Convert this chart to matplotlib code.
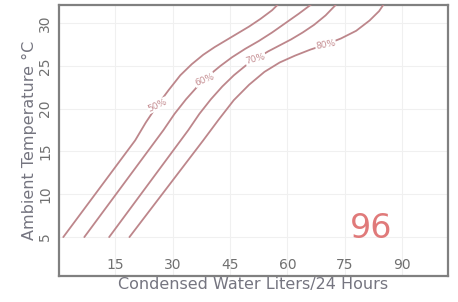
import matplotlib
matplotlib.use("Agg")
import matplotlib.pyplot as plt

# Condensed water (L/24h) vs ambient temperature (°C) for relative humidity curves
rh_labels = ["50%", "60%", "70%", "80%"]

x50 = [1.4, 20.2, 23.0, 26.0, 29.0, 32.0, 35.0, 38.0, 41.0, 44.0, 47.0, 50.0, 53.0, 56.0, 58.5]
t50 = [5.0, 16.3, 18.4, 20.4, 22.2, 23.9, 25.2, 26.3, 27.2, 28.0, 28.8, 29.6, 30.5, 31.5, 32.6]

x60 = [6.9, 27.6, 30.5, 33.5, 36.5, 39.5, 42.5, 45.5, 49.0, 52.5, 56.0, 59.5, 63.0, 66.0, 67.0]
t60 = [5.0, 17.5, 19.4, 21.1, 22.6, 23.9, 25.0, 26.0, 27.0, 27.9, 28.9, 30.0, 31.1, 32.1, 32.5]

x70 = [13.4, 34.1, 37.0, 40.0, 43.0, 46.0, 49.0, 52.0, 55.0, 58.0, 61.0, 64.0, 67.0, 70.0, 72.6, 73.5]
t70 = [5.0, 17.5, 19.4, 21.1, 22.6, 23.9, 25.0, 25.9, 26.7, 27.4, 28.1, 28.9, 29.8, 30.9, 32.1, 32.6]

x80 = [18.7, 38.0, 42.0, 46.0, 50.0, 54.0, 58.0, 62.0, 66.0, 70.0, 74.0, 78.0, 81.5, 84.0, 85.8]
t80 = [5.0, 16.3, 18.7, 21.0, 22.8, 24.3, 25.4, 26.2, 26.9, 27.5, 28.2, 29.1, 30.3, 31.4, 32.6]

# label anchor points (x, temp) on each curve
label_x = [26.0, 38.3, 51.7, 70.0]
label_t = [20.4, 23.4, 25.8, 27.5]
label_rot = [25, 22, 15, 10]

xticks = [15, 30, 45, 60, 75, 90]
yticks = [5, 10, 15, 20, 25, 30]
model = "96"

fig = plt.figure(figsize=(4.58, 3.02), dpi=100)
ax = fig.add_axes([0.129, 0.086, 0.849, 0.897])

line_color = "#bd868b"
for xs, ts in [(x50, t50), (x60, t60), (x70, t70), (x80, t80)]:
    ax.plot(xs, ts, color=line_color, lw=1.3, solid_capstyle="round", zorder=3)

for lab, lx, lt, rot in zip(rh_labels, label_x, label_t, label_rot):
    ax.text(lx, lt, lab, fontsize=6.5, color="#c58e92", ha="center", va="center",
            rotation=rot, zorder=4,
            bbox=dict(boxstyle="square,pad=0.05", fc="white", ec="none"))

ax.text(81.8, 6.0, model, fontsize=24, color="#e07a7a", ha="center", va="center", zorder=5)

ax.set_xlim(0.3, 102)
ax.set_ylim(0.45, 32.1)
ax.set_xticks(xticks)
ax.set_yticks(yticks)
ax.set_xticklabels([str(v) for v in xticks])
ax.set_yticklabels([str(v) for v in yticks], rotation=90, va="center")

ax.tick_params(axis="x", length=0, pad=-13, labelsize=10, labelcolor="#707070")
ax.tick_params(axis="y", length=0, pad=5, labelsize=10, labelcolor="#707070")

ax.grid(True, color="#f0f0f0", lw=0.8, zorder=0)
for s in ax.spines.values():
    s.set_color("#808080")
    s.set_linewidth(1.6)

ax.set_xlabel("Condensed Water Liters/24 Hours", fontsize=11.5, color="#757580", labelpad=1)
ax.set_ylabel("Ambient Temperature °C", fontsize=11.5, color="#757580", labelpad=1)

fig.savefig("out.png", dpi=100)
